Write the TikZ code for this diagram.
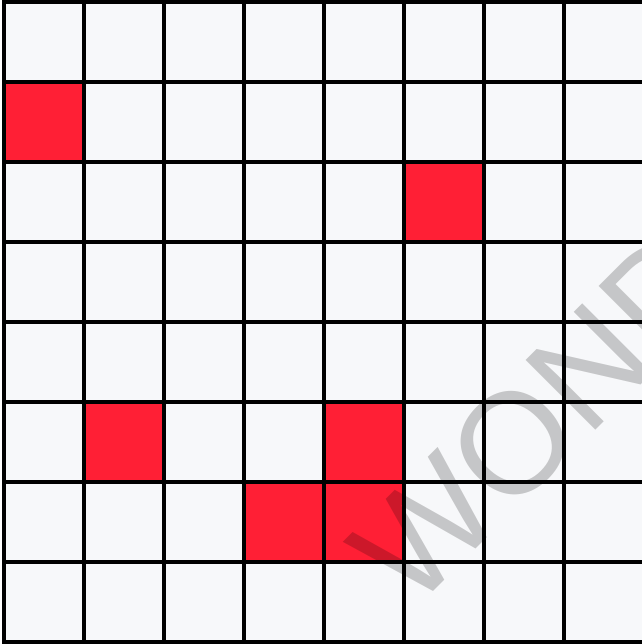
\documentclass[tikz,border=0pt]{standalone}
\usepackage{fontspec}
\usepackage{tikz}
\usetikzlibrary{positioning}
\newfontfamily\wmfont{Liberation Sans}
\definecolor{cellbg}{HTML}{F7F8FA}
\definecolor{hitred}{HTML}{FF1F35}
\begin{document}
\begin{tikzpicture}[
    cell/.style={draw, line width=1.2pt, fill=cellbg, minimum size=1cm, inner sep=0pt, outer sep=0pt},
    hit/.style={cell, fill=hitred},
    wmark/.style={rotate=45, text=black, opacity=0.2, inner sep=0pt,
        font=\wmfont\fontsize{51}{51}\selectfont}]
    \useasboundingbox (-0.05,-0.025) rectangle (7.9625,8.025);
    % the board
    \foreach \r in {0,...,7}
        \foreach \c in {0,...,7}
            \node[cell] (c-\r-\c) at (\c+0.5, 7.5-\r) {};
    % filled squares
    \foreach \r/\c in {1/0, 2/5, 5/1, 5/4, 6/3, 6/4}
        \node[hit] (h-\r-\c) at (c-\r-\c) {};
    % watermark
    \begin{scope}
        \clip (-0.05,-0.025) rectangle (7.9625,8.025);
        \node[wmark, anchor=base west] (wm) at (5.1,0.36) {WONDERSHARE};
    \end{scope}
\end{tikzpicture}
\end{document}
